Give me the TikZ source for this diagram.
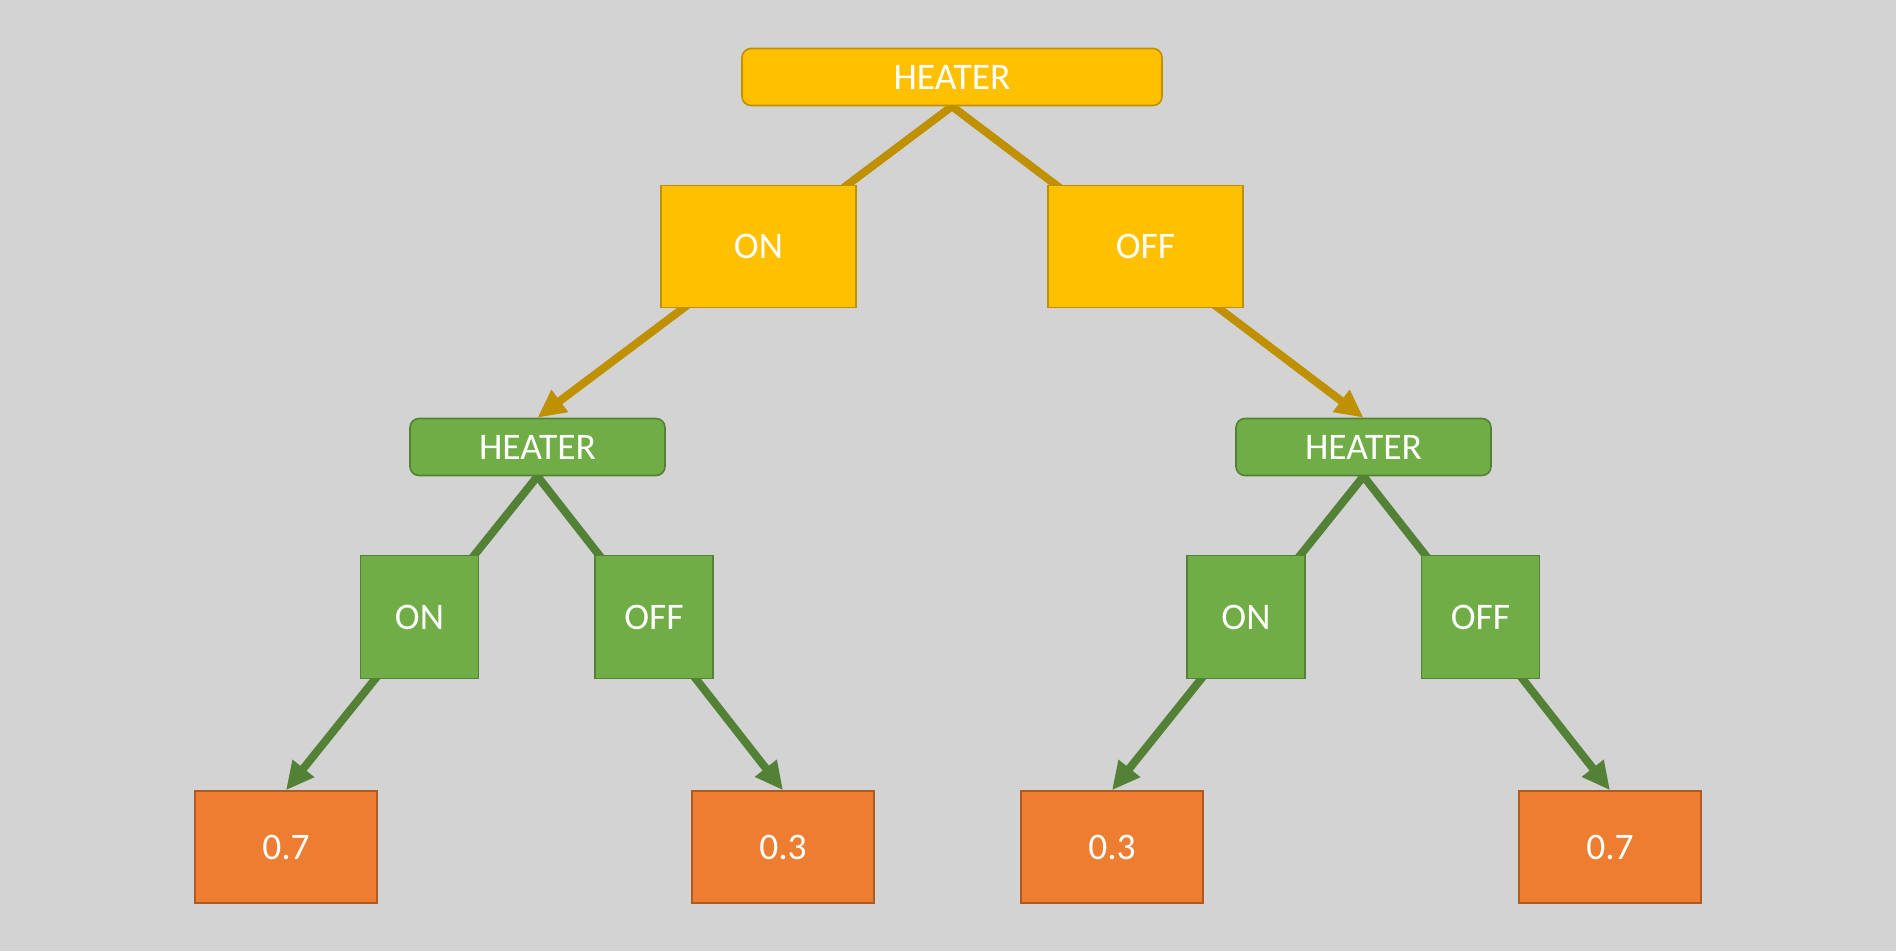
\documentclass[tikz,border=0pt]{standalone}
\usepackage{fontspec}
\setmainfont{Carlito}
\usetikzlibrary{arrows.meta}
\pgfdeclarelayer{bg}
\pgfdeclarelayer{lines}
\pgfsetlayers{bg,lines,main}
\definecolor{bgc}{HTML}{D3D3D3}
\definecolor{yfill}{HTML}{FFC000}
\definecolor{ydraw}{HTML}{BF9000}
\definecolor{gfill}{HTML}{70AD47}
\definecolor{gdraw}{HTML}{538135}
\definecolor{ofill}{HTML}{ED7D31}
\definecolor{odraw}{HTML}{AE5A21}
\tikzset{
  box/.style={draw, line width=1.6pt, inner sep=0pt, text=white, font=\fontsize{37.5}{42}\selectfont},
  ybox/.style={box, fill=yfill, draw=ydraw},
  gbox/.style={box, fill=gfill, draw=gdraw},
  obox/.style={box, fill=ofill, draw=odraw, minimum width=182pt, minimum height=112pt},
  hbox/.style={rounded corners=9pt, minimum height=57pt},
  yline/.style={draw=ydraw, line width=8pt},
  gline/.style={draw=gdraw, line width=8pt},
  tipped/.style={-{Triangle[length=28pt,width=26pt]}},
}
\begin{document}
\begin{tikzpicture}[x=1pt,y=-1pt]
\begin{pgfonlayer}{bg}
\fill[bgc] (0,0) rectangle (1896,951);
\end{pgfonlayer}
\useasboundingbox (0,0) rectangle (1896,951);

\node[ybox, hbox, minimum width=420pt] (h0) at (952,77) {HEATER};
\node[ybox, minimum width=195pt, minimum height=122pt] (a1) at (758.5,246.5) {ON};
\node[ybox, minimum width=195pt, minimum height=122pt] (a2) at (1145.5,246.5) {OFF};

\node[gbox, hbox, minimum width=255pt] (h1) at (537.5,447) {HEATER};
\node[gbox, hbox, minimum width=255pt] (h2) at (1363.5,447) {HEATER};

\node[gbox, minimum width=118pt, minimum height=123pt] (b1) at (419.5,617) {ON};
\node[gbox, minimum width=118pt, minimum height=123pt] (b2) at (654,617) {OFF};
\node[gbox, minimum width=118pt, minimum height=123pt] (b3) at (1246,617) {ON};
\node[gbox, minimum width=118pt, minimum height=123pt] (b4) at (1480.5,617) {OFF};

\node[obox] (l1) at (286,847) {0.7};
\node[obox] (l2) at (783,847) {0.3};
\node[obox] (l3) at (1112,847) {0.3};
\node[obox] (l4) at (1610,847) {0.7};

\begin{pgfonlayer}{lines}
\draw[yline, tipped] (h0.south) -- (h1.north);
\draw[yline, tipped] (h0.south) -- (h2.north);
\draw[gline, tipped] (h1.south) -- (l1.north);
\draw[gline, tipped] (h1.south) -- (l2.north);
\draw[gline, tipped] (h2.south) -- (l3.north);
\draw[gline, tipped] (h2.south) -- (l4.north);
\end{pgfonlayer}
\end{tikzpicture}
\end{document}
